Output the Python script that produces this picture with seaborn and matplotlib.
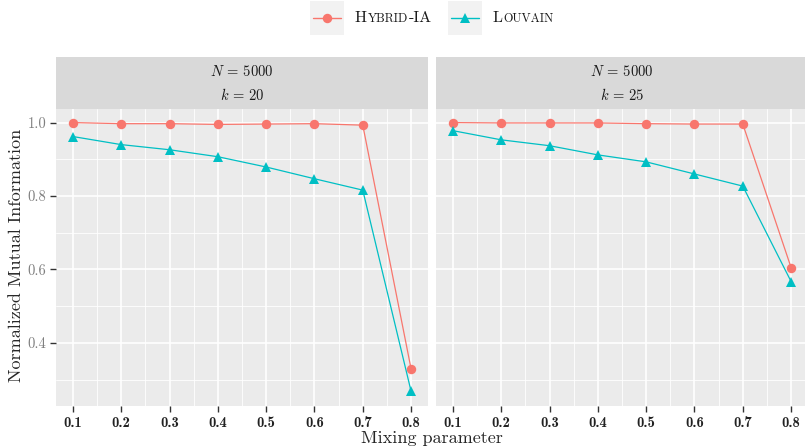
import numpy as np
import pandas as pd
import matplotlib
matplotlib.use("Agg")
import matplotlib.pyplot as plt
import seaborn as sns
from matplotlib.lines import Line2D
from matplotlib.patches import Rectangle
from matplotlib.offsetbox import DrawingArea, TextArea, HPacker, AnchoredOffsetbox

mixing = [0.1, 0.2, 0.3, 0.4, 0.5, 0.6, 0.7, 0.8]
hybrid_k20 = [1.000, 0.997, 0.997, 0.995, 0.996, 0.997, 0.993, 0.329]
louvain_k20 = [0.962, 0.940, 0.926, 0.907, 0.879, 0.847, 0.816, 0.268]
hybrid_k25 = [1.000, 0.999, 0.999, 0.999, 0.997, 0.996, 0.996, 0.605]
louvain_k25 = [0.978, 0.953, 0.937, 0.912, 0.893, 0.860, 0.827, 0.567]
methods = ["Hybrid-IA", "Louvain"]
panel_titles = [("$N$ = 5000", "$k$ = 20"), ("$N$ = 5000", "$k$ = 25")]
xticks = [0.1, 0.2, 0.3, 0.4, 0.5, 0.6, 0.7, 0.8]
yticks = [0.4, 0.6, 0.8, 1.0]

colors = {"Hybrid-IA": "#F8766D", "Louvain": "#00BFC4"}
markers = {"Hybrid-IA": "o", "Louvain": "^"}
msize = {"Hybrid-IA": 6.8, "Louvain": 7.8}

sns.set_theme(style="white")
plt.rcParams["font.family"] = ["cmr10", "DejaVu Serif"]
plt.rcParams["mathtext.fontset"] = "cm"
plt.rcParams["axes.formatter.use_mathtext"] = True

W, H = 805, 447
fig = plt.figure(figsize=(W / 100, H / 100), dpi=100)

def fr(x0, y0, x1, y1):
    return [x0 / W, 1 - y1 / H, (x1 - x0) / W, (y1 - y0) / H]

panels = [(56, 428, hybrid_k20, louvain_k20), (436, 808, hybrid_k25, louvain_k25)]
strip_top, strip_bot, plot_bot = 57, 109, 406

for i, (x0, x1, hy, lo) in enumerate(panels):
    df = pd.DataFrame({
        "mix": mixing * 2,
        "nmi": hy + lo,
        "method": ["Hybrid-IA"] * len(mixing) + ["Louvain"] * len(mixing),
    })
    ax = fig.add_axes(fr(x0, strip_bot, x1, plot_bot))
    ax.set_facecolor("#EBEBEB")
    ax.set_xlim(0.065, 0.835)
    ax.set_ylim(0.228, 1.037)
    for v in [0.15, 0.25, 0.35, 0.45, 0.55, 0.65, 0.75]:
        ax.axvline(v, color="white", lw=0.6, zorder=0)
    for v in [0.3, 0.5, 0.7, 0.9]:
        ax.axhline(v, color="white", lw=0.6, zorder=0)
    for v in xticks:
        ax.axvline(v, color="white", lw=1.2, zorder=0)
    for v in yticks:
        ax.axhline(v, color="white", lw=1.2, zorder=0)
    for m in methods:
        sub = df[df.method == m]
        sns.lineplot(data=sub, x="mix", y="nmi", color=colors[m], marker=markers[m],
                     markersize=msize[m], markeredgewidth=0,
                     lw=0.9, ax=ax, legend=False, zorder=3)
    for s in ax.spines.values():
        s.set_visible(False)
    ax.set_xticks(xticks)
    ax.set_xticklabels([f"{v:.1f}" for v in xticks], family="cmb10", fontsize=10.5, color="#222222")
    ax.set_xlabel("")
    ax.set_ylabel("")
    ax.tick_params(axis="x", length=4, width=1, color="#333333", pad=3, bottom=True)
    if i == 0:
        ax.set_yticks(yticks)
        ax.set_yticklabels([f"{v:.1f}" for v in yticks], fontsize=10.5, color="#7f7f7f")
        ax.tick_params(axis="y", length=4, width=1, color="#333333", pad=3, left=True)
    else:
        ax.set_yticks(yticks)
        ax.set_yticklabels([])
        ax.tick_params(axis="y", length=0)
    # strip
    sax = fig.add_axes(fr(x0, strip_top, x1, strip_bot))
    sax.set_facecolor("#D9D9D9")
    sax.set_xticks([]); sax.set_yticks([])
    for s in sax.spines.values():
        s.set_visible(False)
    sax.text(0.5, 0.72, panel_titles[i][0], ha="center", va="center", fontsize=10.5,
             color="#1a1a1a", transform=sax.transAxes)
    sax.text(0.5, 0.26, panel_titles[i][1], ha="center", va="center", fontsize=10.5,
             color="#1a1a1a", transform=sax.transAxes)

fig.text(16 / W, 1 - 255 / H, "Normalized Mutual Information", rotation=90,
         ha="center", va="center", fontsize=13)
fig.text(432 / W, 1 - 438 / H, "Mixing parameter", ha="center", va="center", fontsize=13)

# legend with small caps
def key(m):
    da = DrawingArea(24, 24, 0, 0)
    da.add_artist(Rectangle((0, 0), 24, 24, facecolor="#F2F2F2", edgecolor="none"))
    da.add_artist(Line2D([2, 22], [12, 12], color=colors[m], lw=1.0))
    da.add_artist(Line2D([12], [12], color=colors[m], marker=markers[m], lw=0,
                         markersize=msize[m], markeredgewidth=0))
    return da

def smallcaps(parts):
    kids = []
    for txt, big in parts:
        kids.append(TextArea(txt, textprops=dict(fontsize=11.5 if big else 8.8, color="#1a1a1a")))
    return HPacker(children=kids, align="baseline", pad=0, sep=0.5)

entries = [key("Hybrid-IA"), smallcaps([("H", True), ("YBRID", False), ("-IA", True)]),
           key("Louvain"), smallcaps([("L", True), ("OUVAIN", False)])]
box = HPacker(children=[HPacker(children=[entries[0], entries[1]], align="center", pad=0, sep=8),
                        HPacker(children=[entries[2], entries[3]], align="center", pad=0, sep=8)],
              align="center", pad=0, sep=12)
anch = AnchoredOffsetbox(loc="center", child=box, pad=0, frameon=False,
                         bbox_to_anchor=(432 / W, 1 - 18 / H), bbox_transform=fig.transFigure)
fig.add_artist(anch)

fig.savefig("out.png", dpi=100, facecolor="white")
